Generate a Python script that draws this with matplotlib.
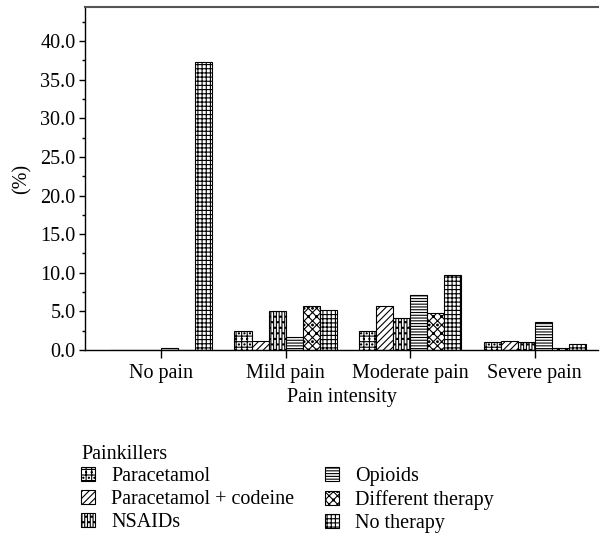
import numpy as np
import matplotlib

matplotlib.use("Agg")
import matplotlib.pyplot as plt
from matplotlib.ticker import MultipleLocator

plt.rcParams.update(
    {
        "font.family": ["Liberation Serif", "DejaVu Serif"],
        "font.size": 14.5,
        "hatch.linewidth": 0.8,
        "axes.linewidth": 1.0,
    }
)

# ---- data -------------------------------------------------------------------
categories = ["No pain", "Mild pain", "Moderate pain", "Severe pain"]
drugs = ["Paracetamol", "Paracetamol + codeine", "NSAIDs",
         "Opioids", "Different therapy", "No therapy"]

paracetamol = [0.0, 2.5, 2.5, 1.0]
para_codeine = [0.0, 1.15, 5.7, 1.15]
nsaids = [0.0, 5.0, 4.2, 1.0]
opioids = [0.2, 1.7, 7.1, 3.65]
different = [0.0, 5.7, 4.75, 0.2]
no_therapy = [37.3, 5.15, 9.75, 0.8]

series = [paracetamol, para_codeine, nsaids, opioids, different, no_therapy]
hatches = ["+++...", "/////", "||||||...", "------", "xxxx..", "++++"]

fig = plt.figure(figsize=(6.08, 5.39), dpi=100)
ax = fig.add_axes([0.14, 0.3506, 0.844, 0.6364])

x = np.arange(len(categories))
w = 0.137
for i, (vals, name, h) in enumerate(zip(series, drugs, hatches)):
    ax.bar(x + (i - 2.5) * w, vals, w, color="white", edgecolor="black",
           hatch=h, lw=0.8, label=name)

ax.set_xlim(-0.61, 3.51)
ax.set_ylim(0, 44.4)
ax.set_xticks(x)
ax.set_xticklabels(categories)
ax.yaxis.set_major_locator(MultipleLocator(5))
ax.yaxis.set_minor_locator(MultipleLocator(2.5))
ax.yaxis.set_major_formatter(lambda v, p: f"{v:.1f}")
ax.tick_params(axis="y", which="major", length=4, width=1, direction="out", pad=3)
ax.tick_params(axis="y", which="minor", length=2, width=1, direction="out")
ax.tick_params(axis="x", length=6, width=1, pad=4)

ax.spines["right"].set_visible(False)
ax.spines["top"].set_color("#555555")
ax.spines["top"].set_linewidth(1.5)

ax.set_xlabel("Pain intensity", labelpad=4)
ax.set_ylabel("(%)", labelpad=6)

leg = fig.legend(loc="upper left", bbox_to_anchor=(0.12, 0.19), ncol=2,
                 frameon=False, title="Painkillers", alignment="left",
                 handlelength=0.7, handleheight=0.7, handletextpad=0.8,
                 columnspacing=1.5, labelspacing=0.18, borderaxespad=0,
                 title_fontsize=14.5)

fig.savefig("out.png", dpi=100)
